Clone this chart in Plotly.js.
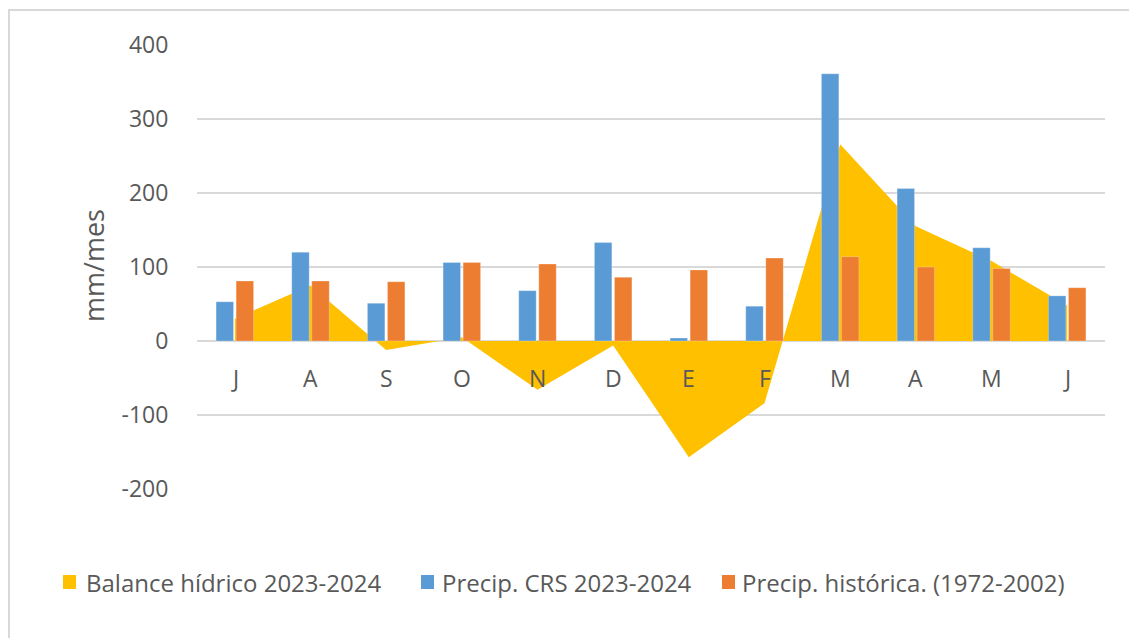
<!DOCTYPE html>
<html>
<head>
<meta charset="utf-8">
<script src="https://cdn.plot.ly/plotly-3.0.1.min.js"></script>
<style>html,body{margin:0;padding:0;background:#fff;}#chart{width:1129px;height:638px;}</style>
</head>
<body>
<div id="chart"></div>
<script>
const months = ["J","A","S","O","N","D","E","F","M","A","M","J"];
const balance = [30, 75, -12, 5, -66, -6, -157, -84, 266, 155, 108, 48];
const precipCRS = [53, 120, 51, 106, 68, 133, 4, 47, 361, 206, 126, 61];
const precipHist = [81, 81, 80, 106, 104, 86, 96, 112, 114, 100, 98, 72];
const seriesNames = ["Balance hídrico 2023-2024", "Precip. CRS 2023-2024", "Precip. histórica. (1972-2002)"];
const seriesColors = ["#FFC000", "#5B9BD5", "#ED7D31"];
const yTicks = [-200, -100, 0, 100, 200, 300, 400];
const yTickText = ["-200", "-100", "0", "100", "200", "300", "400"];

const idx = months.map((m, i) => i);
const W = 1129, H = 638, L = 197, R = 24, T = 45, B = 149;
const pw = W - L - R, ph = H - T - B;
const px = v => (v - L) / pw;
const py = v => (H - B - v) / ph;
const FONT = "Open Sans, Liberation Sans, sans-serif";
const GREY = "#595959";

const traces = [
  {type: "scatter", x: idx, y: balance, mode: "lines", fill: "tozeroy",
   fillcolor: seriesColors[0], line: {width: 0, color: seriesColors[0]},
   name: seriesNames[0], xaxis: "x", yaxis: "y", hoverinfo: "y"},
  {type: "bar", x: idx, y: precipCRS, name: seriesNames[1],
   marker: {color: seriesColors[1], line: {color: "rgba(255,255,255,0.5)", width: 0.5}},
   xaxis: "x2", yaxis: "y2"},
  {type: "bar", x: idx, y: precipHist, name: seriesNames[2],
   marker: {color: seriesColors[2], line: {color: "rgba(255,255,255,0.5)", width: 0.5}},
   xaxis: "x2", yaxis: "y2"}
];

const yr = [-200, 400];
const xr = [-0.5, 11.5];
const annotations = months.map((m, i) => ({
  x: i, y: 0, xref: "x", yref: "y", text: m, showarrow: false,
  xanchor: "center", yanchor: "middle", yshift: -37, font: {family: FONT, size: 23, color: GREY}
}));
annotations.push({
  x: px(93), y: py(266), xref: "paper", yref: "paper", text: "mm/mes", textangle: -90,
  xanchor: "center", yanchor: "middle",
  showarrow: false, font: {family: FONT, size: 27, color: GREY}
});

const shapes = [
  {type: "rect", xref: "paper", yref: "paper", x0: px(9), x1: px(1150), y0: py(10), y1: py(660),
   line: {color: "#d9d9d9", width: 2}, fillcolor: "rgba(0,0,0,0)", layer: "below"}
];
const legendPos = [[63, 84], [421, 440], [722, 740]];
seriesNames.forEach((n, i) => {
  const [sx, tx] = legendPos[i];
  shapes.push({type: "rect", xref: "paper", yref: "paper",
    x0: px(sx), x1: px(sx + 13), y0: py(575), y1: py(589),
    fillcolor: seriesColors[i], line: {width: 0}});
  annotations.push({x: px(tx), y: py(582), xref: "paper", yref: "paper", text: n,
    xanchor: "left", yanchor: "middle", showarrow: false,
    font: {family: FONT, size: 24, color: GREY}});
});

const yaxisBase = {
  range: yr, tickvals: yTicks, ticktext: yTickText, showgrid: true, gridcolor: "#d9d9d9", gridwidth: 1.5,
  zeroline: true, zerolinecolor: "#d9d9d9", zerolinewidth: 1.5, showline: false,
  ticks: "outside", ticklen: 23, tickcolor: "rgba(0,0,0,0)",
  tickfont: {family: FONT, size: 23, color: GREY}, fixedrange: true
};

const layout = {
  width: W, height: H,
  margin: {l: L, r: R, t: T, b: B},
  paper_bgcolor: "#fff", plot_bgcolor: "rgba(0,0,0,0)",
  showlegend: false,
  barmode: "group", bargap: 0.47, bargroupgap: 0.13,
  xaxis: {range: xr, showticklabels: false, showgrid: false, zeroline: false, showline: false, ticks: "", fixedrange: true},
  yaxis: yaxisBase,
  xaxis2: {range: xr, overlaying: "x", showticklabels: false, showgrid: false, zeroline: false, showline: false, ticks: "", fixedrange: true},
  yaxis2: {range: yr, overlaying: "y", showticklabels: false, showgrid: false, zeroline: false, showline: false, ticks: "", fixedrange: true},
  annotations: annotations,
  shapes: shapes
};

Plotly.newPlot("chart", traces, layout, {displayModeBar: false, staticPlot: true});
</script>
</body>
</html>
